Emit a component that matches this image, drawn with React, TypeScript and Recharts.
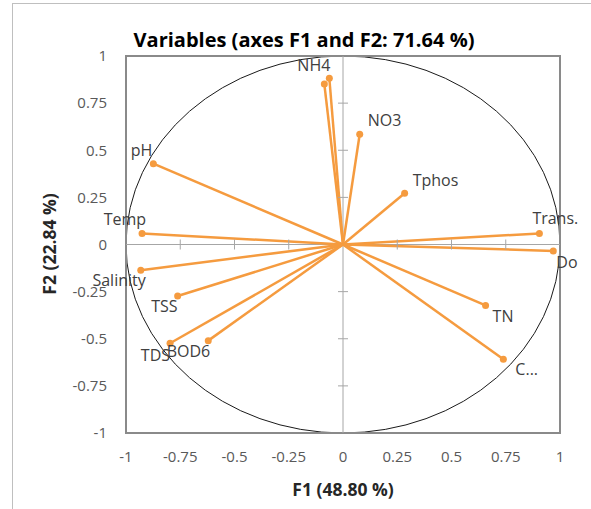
import React from 'react';
import {
  ScatterChart,
  Scatter,
  XAxis,
  YAxis,
  ReferenceLine,
  ReferenceArea,
  ReferenceDot,
} from 'recharts';

// ---- data ----
const variables = ['NH4', 'NH4 (2)', 'NO3', 'Tphos', 'Trans.', 'Do', 'TN', 'C...', 'pH', 'Temp', 'Salinity', 'TSS', 'TDS', 'BOD6'];
const labels = ['NH4', '', 'NO3', 'Tphos', 'Trans.', 'Do', 'TN', 'C...', 'pH', 'Temp', 'Salinity', 'TSS', 'TDS', 'BOD6'];
const f1Values = [-0.063, -0.086, 0.077, 0.284, 0.905, 0.969, 0.657, 0.739, -0.874, -0.926, -0.932, -0.762, -0.797, -0.621];
const f2Values = [0.882, 0.851, 0.585, 0.272, 0.059, -0.034, -0.323, -0.609, 0.429, 0.059, -0.137, -0.273, -0.524, -0.51];
const axisTicks = [-1, -0.75, -0.5, -0.25, 0, 0.25, 0.5, 0.75, 1];
const innerTicks = [-0.75, -0.5, -0.25, 0.25, 0.5, 0.75];

const TITLE = 'Variables (axes F1 and F2: 71.64 %)';
const X_TITLE = 'F1 (48.80 %)';
const Y_TITLE = 'F2 (22.84 %)';

// ---- styling ----
const ORANGE = '#F59B3F';
const FONT = "'Open Sans', sans-serif";

// label placement (style, not data)
const labelStyle: Record<string, { anchor: 'start' | 'end'; dx: number; dy: number }> = {
  'NH4': { anchor: 'end', dx: 1, dy: -13 },
  'NH4 (2)': { anchor: 'end', dx: 0, dy: -13 },
  'NO3': { anchor: 'start', dx: 8, dy: -14 },
  'Tphos': { anchor: 'start', dx: 8, dy: -13 },
  'Trans.': { anchor: 'start', dx: -7, dy: -15 },
  'Do': { anchor: 'start', dx: 3, dy: 11 },
  'TN': { anchor: 'start', dx: 7, dy: 11 },
  'C...': { anchor: 'start', dx: 12, dy: 10 },
  'pH': { anchor: 'end', dx: -1, dy: -14 },
  'Temp': { anchor: 'end', dx: 4, dy: -14 },
  'Salinity': { anchor: 'end', dx: 5, dy: 10 },
  'TSS': { anchor: 'end', dx: 0, dy: 10 },
  'TDS': { anchor: 'end', dx: 0, dy: 12 },
  'BOD6': { anchor: 'end', dx: 2, dy: 10 },
};

const points = variables.map((v, i) => ({ name: v, label: labels[i], x: f1Values[i], y: f2Values[i] }));

const PointShape = (props: any) => {
  const { cx, cy, payload } = props;
  if (cx == null || cy == null) return null;
  const st = labelStyle[payload.name] || { anchor: 'start', dx: 6, dy: -10 };
  return (
    <g>
      <circle cx={cx} cy={cy} r={3.5} fill={ORANGE} />
      {payload.label ? (
        <text
          x={cx + st.dx}
          y={cy + st.dy}
          textAnchor={st.anchor}
          dominantBaseline="central"
          fontFamily={FONT}
          fontSize={16}
          fill="#404040"
        >
          {payload.label}
        </text>
      ) : null}
    </g>
  );
};

const FrameAndCircle = (props: any) => {
  const { x, y, width, height } = props;
  return (
    <g>
      <ellipse
        cx={x + width / 2}
        cy={y + height / 2}
        rx={width / 2}
        ry={height / 2}
        fill="none"
        stroke="#1a1a1a"
        strokeWidth={1}
      />
    </g>
  );
};

const BorderRect = (props: any) => {
  const { x, y, width, height } = props;
  return <rect x={x} y={y} width={width} height={height} fill="none" stroke="#8a8a8a" strokeWidth={2} />;
};

const VTick = (props: any) => {
  const { cx, cy } = props;
  return <line x1={cx} x2={cx} y1={cy - 5} y2={cy + 5} stroke="#a6a6a6" strokeWidth={1} />;
};
const HTick = (props: any) => {
  const { cx, cy } = props;
  return <line x1={cx - 5} x2={cx + 5} y1={cy} y2={cy} stroke="#a6a6a6" strokeWidth={1} />;
};

export default function App() {
  return (
    <div style={{ position: 'absolute', left: 0, top: 0, width: 591, height: 509, background: '#fff', overflow: 'hidden' }}>
      <div
        style={{
          position: 'absolute',
          left: 12,
          top: 3,
          width: 700,
          height: 600,
          borderLeft: '1px solid #bfbfbf',
          borderTop: '1px solid #bfbfbf',
        }}
      />
      <div style={{ position: 'absolute', left: 0, top: 0 }}>
        <ScatterChart width={591} height={509} margin={{ top: 56, right: 31, bottom: 36, left: 66 }}>
          <XAxis
            type="number"
            dataKey="x"
            domain={[-1, 1]}
            ticks={axisTicks}
            axisLine={false}
            tickLine={false}
            tickSize={0}
            tickMargin={18}
            height={40}
            interval={0}
            tick={{ fontFamily: FONT, fontSize: 15, fill: '#595959' }}
          />
          <YAxis
            type="number"
            dataKey="y"
            domain={[-1, 1]}
            ticks={axisTicks}
            axisLine={false}
            tickLine={false}
            tickSize={0}
            tickMargin={19}
            width={60}
            interval={0}
            tick={{ fontFamily: FONT, fontSize: 15, fill: '#595959' }}
          />
          <ReferenceArea x1={-1} x2={1} y1={-1} y2={1} shape={FrameAndCircle} ifOverflow="visible" />
          <ReferenceLine x={0} stroke="#a6a6a6" strokeWidth={1} />
          <ReferenceLine y={0} stroke="#a6a6a6" strokeWidth={1} />
          {innerTicks.map((t) => (
            <ReferenceDot key={'vx' + t} x={t} y={0} r={0} shape={VTick} />
          ))}
          {innerTicks.map((t) => (
            <ReferenceDot key={'hy' + t} x={0} y={t} r={0} shape={HTick} />
          ))}
          {points.map((p) => (
            <ReferenceLine
              key={'seg' + p.name}
              segment={[{ x: 0, y: 0 }, { x: p.x, y: p.y }]}
              stroke={ORANGE}
              strokeWidth={2.5}
            />
          ))}
          <ReferenceArea x1={-1} x2={1} y1={-1} y2={1} shape={BorderRect} ifOverflow="visible" />
          <Scatter data={points} shape={PointShape} isAnimationActive={false} />
        </ScatterChart>
      </div>
      <svg width={591} height={509} style={{ position: 'absolute', left: 0, top: 0, pointerEvents: 'none' }}>
        <text x={304} y={39} textAnchor="middle" dominantBaseline="central" fontFamily={FONT} fontWeight="bold" fontSize={20} fill="#000">
          {TITLE}
        </text>
        <text x={343} y={489} textAnchor="middle" dominantBaseline="central" fontFamily={FONT} fontWeight="bold" fontSize={17.5} fill="#262626">
          {X_TITLE}
        </text>
        <text
          x={49}
          y={244}
          textAnchor="middle"
          dominantBaseline="central"
          fontFamily={FONT}
          fontWeight="bold"
          fontSize={17.5}
          fill="#262626"
          transform="rotate(-90 49 244)"
        >
          {Y_TITLE}
        </text>
      </svg>
    </div>
  );
}
